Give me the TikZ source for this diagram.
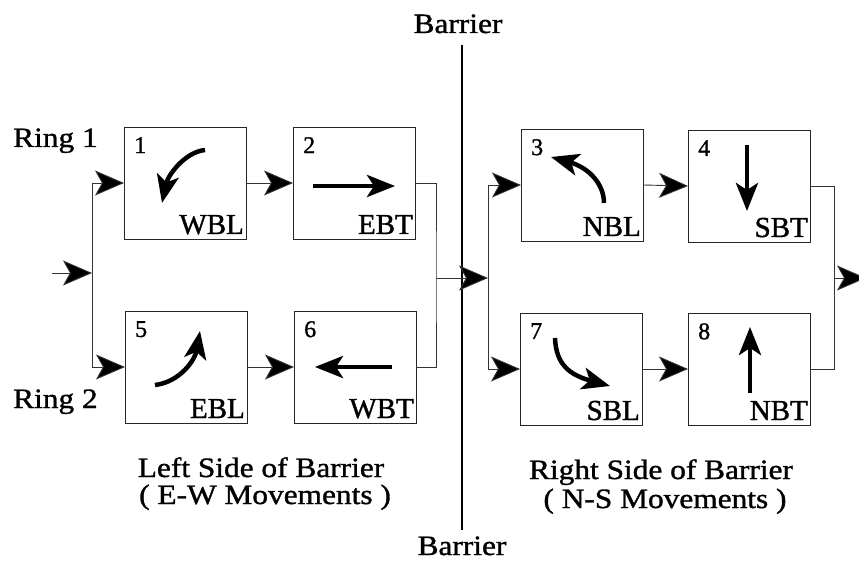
\documentclass[tikz,border=0pt]{standalone}
\usepackage{fontspec}
\setmainfont{Liberation Serif}[FakeStretch=1.12,FakeBold=1.2]
\newfontfamily\boxfont{Liberation Serif}[FakeBold=1.2]
\usetikzlibrary{arrows.meta,calc}
\begin{document}
\begin{tikzpicture}[x=1pt,y=-1pt,
  phase/.style={draw=black!85,line width=0.9pt,minimum width=122pt,minimum height=112pt,inner sep=0pt,outer sep=0pt},
  link/.style={draw=black!80,line width=0.9pt,-{Stealth[length=29pt,width=25pt,inset=7pt,fill=black]}},
  wire/.style={draw=black!80,line width=0.9pt},
  move/.style={line width=4.5pt,-{Stealth[length=28pt,width=22pt,inset=7pt]}},
  num/.style={font=\boxfont\fontsize{24}{24}\selectfont,anchor=north west,inner sep=0pt},
  lab/.style={font=\boxfont\fontsize{29}{29}\selectfont,anchor=base east,inner sep=0pt},
  txt/.style={font=\fontsize{28}{28}\selectfont,inner sep=0pt}]
\useasboundingbox (0,0) rectangle (859,561);
% boxes
\node[phase] (b1) at (185,183) {};
\node[phase] (b2) at (354,183) {};
\node[phase] (b5) at (186,367) {};
\node[phase] (b6) at (355,367) {};
\node[phase] (b3) at (582,185) {};
\node[phase] (b4) at (749,186) {};
\node[phase] (b7) at (581,369) {};
\node[phase] (b8) at (749,369) {};
% numbers
\foreach \b/\n in {b1/1,b2/2,b3/3,b4/4,b5/5,b6/6,b7/7,b8/8}
  \node[num] (n\n) at ($(\b.north west)+(10,10)$) {\n};
% labels
\foreach \b/\t in {b1/WBL,b2/EBT,b3/NBL,b4/SBT,b5/EBL,b6/WBT,b7/SBL,b8/NBT}
  \node[lab] (l\t) at ($(\b.south east)+(-2,-5)$) {\t};
% movements
\draw[move] (205,150) .. controls (185,152) and (168,175) .. (162,203);
\draw[move] (313,186) -- (395,186);
\draw[move] (155,385) .. controls (180,382) and (195,360) .. (200,331);
\draw[move] (392,367) -- (315,367);
\draw[move] (604,203) .. controls (604,185) and (590,168) .. (551,157);
\draw[move] (747,145) -- (747,211);
\draw[move] (555,338) .. controls (556,365) and (570,375) .. (610,386);
\draw[move] (750,393) -- (750,327);
% barrier
\coordinate (bt) at (462,45);
\coordinate (bb) at (462,530);
\draw[line width=2.6pt] (bt) -- (bb);
% connectors left
\coordinate (in) at (52,273);
\coordinate (s1) at (92,273);
\draw[link] (in) -- (s1);
\draw[wire] (b1.west -| s1) -- (b5.west -| s1);
\draw[link] (b1.west -| s1) -- (b1.west);
\draw[link] (b5.west -| s1) -- (b5.west);
\draw[link] (b1.east) -- (b2.west);
\draw[link] (b5.east) -- (b6.west);
\coordinate (m1) at (436,278);
\draw[wire] (b2.east) -| (m1) |- (b6.east);
\coordinate (s2) at (488,278);
\draw[link] (m1) -- (s2);
% connectors right
\draw[wire] (b3.west -| s2) -- (b7.west -| s2);
\draw[link] (b3.west -| s2) -- (b3.west);
\draw[link] (b7.west -| s2) -- (b7.west);
\draw[link] (b3.east) -- (b4.west);
\draw[link] (b7.east) -- (b8.west);
\coordinate (m2) at (834,278);
\draw[wire] (b4.east) -| (m2) |- (b8.east);
\coordinate (out) at (866,278);
\draw[link] (m2) -- (out);
% texts
\node[txt,anchor=base] (bar1) at (458,33) {Barrier};
\node[txt,anchor=base] (bar2) at (462,555) {Barrier};
\node[txt,anchor=base west] (r1) at (13,147) {Ring 1};
\node[txt,anchor=base west] (r2) at (13,408) {Ring 2};
\node[txt,anchor=base] (ls1) at (261,477) {Left Side of Barrier};
\node[txt,anchor=base] (ls2) at (265,504) {( E-W Movements )};
\node[txt,anchor=base] (rs1) at (661,479) {Right Side of Barrier};
\node[txt,anchor=base] (rs2) at (665,508) {( N-S Movements )};
\end{tikzpicture}
\end{document}
